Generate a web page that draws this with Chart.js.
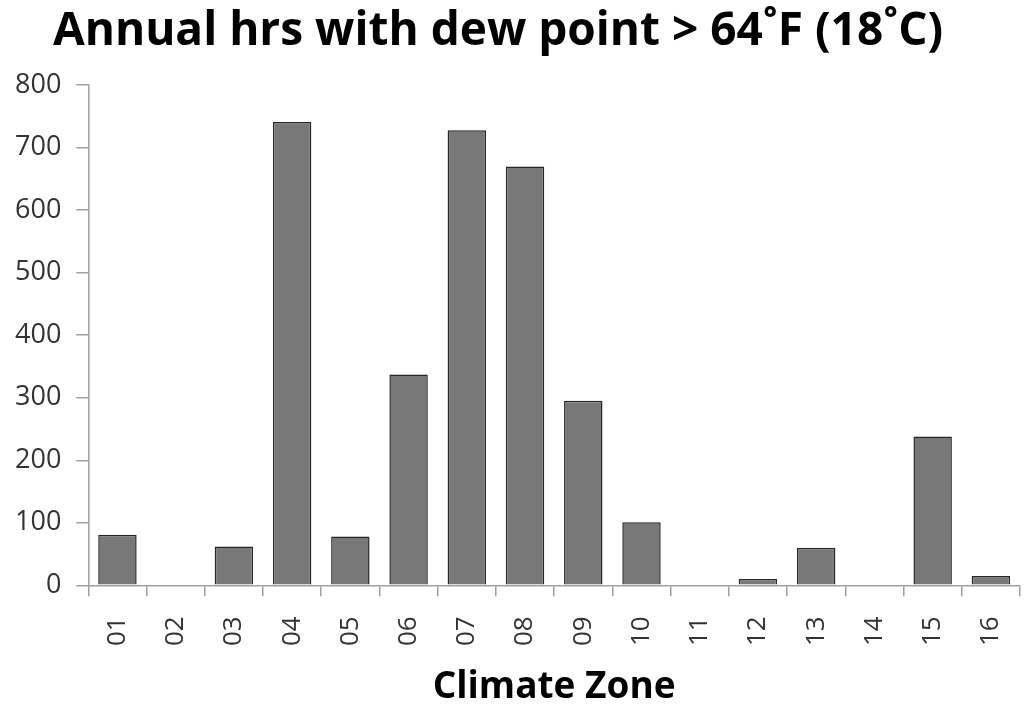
<!DOCTYPE html>
<html>
<head>
<meta charset="utf-8">
<script src="https://cdn.jsdelivr.net/npm/chart.js@4"></script>
<style>
  html, body { margin: 0; padding: 0; background: #fff; }
  #wrap { width: 1024px; height: 707px; position: relative; }
</style>
</head>
<body>
<div id="wrap"><canvas id="dewChart"></canvas></div>
<script>
// Climate zones and annual hours with dew point > 64F
const zones = ['01', '02', '03', '04', '05', '06', '07', '08', '09', '10', '11', '12', '13', '14', '15', '16'];
const hours = [81, 0, 62, 741, 78, 337, 728, 670, 295, 101, 0, 10, 60, 0, 238, 15];
const yTicks = [0, 100, 200, 300, 400, 500, 600, 700, 800];

const FONT = "'Open Sans', 'Noto Sans', sans-serif";

document.addEventListener('DOMContentLoaded', function() {
    initDewChart();
});

// Title in the original sits a little left of the page centre
const titleShift = {
    id: 'titleShift',
    afterLayout: function(chart) {
        const t = chart.titleBlock;
        if (t) {
            t.left -= 12;
            t.right -= 12;
        }
    }
};

function initDewChart() {
    const ctx = document.getElementById('dewChart');
    if (!ctx) return;

    new Chart(ctx, {
        type: 'bar',
        data: {
            labels: zones,
            datasets: [{
                data: hours,
                backgroundColor: '#787878',
                borderColor: '#262626',
                borderWidth: 1.5,
                barPercentage: 0.66,
                categoryPercentage: 1
            }]
        },
        plugins: [titleShift],
        options: {
            responsive: true,
            maintainAspectRatio: false,
            animation: false,
            layout: {
                padding: { left: 0, right: 4, top: 0, bottom: 1 }
            },
            plugins: {
                legend: { display: false },
                tooltip: { enabled: false },
                title: {
                    display: true,
                    text: 'Annual hrs with dew point > 64˚F (18˚C)',
                    color: '#000',
                    font: { family: FONT, size: 46, weight: 'bold', lineHeight: 1.2 },
                    padding: { top: 4, bottom: 26 }
                }
            },
            scales: {
                y: {
                    min: 0,
                    max: 800,
                    afterBuildTicks: function(axis) {
                        axis.ticks = yTicks.map(v => ({ value: v }));
                    },
                    border: { color: '#a0a0a0', width: 1.5 },
                    grid: {
                        drawOnChartArea: false,
                        drawTicks: true,
                        tickLength: 12,
                        color: '#a0a0a0',
                        lineWidth: 1.5
                    },
                    ticks: {
                        color: '#333',
                        padding: 15,
                        font: { family: FONT, size: 27 }
                    }
                },
                x: {
                    afterFit: function(scale) {
                        scale.paddingLeft = 0;
                        scale.paddingRight = 0;
                    },
                    border: { color: '#a0a0a0', width: 1.5 },
                    grid: {
                        offset: true,
                        drawOnChartArea: false,
                        drawTicks: true,
                        tickLength: 11,
                        color: '#a0a0a0',
                        lineWidth: 1.5
                    },
                    ticks: {
                        color: '#333',
                        minRotation: 90,
                        maxRotation: 90,
                        padding: 20,
                        font: { family: FONT, size: 26 }
                    },
                    title: {
                        display: true,
                        text: 'Climate Zone',
                        color: '#000',
                        font: { family: FONT, size: 37, weight: 'bold', lineHeight: 1 },
                        padding: { top: 3, bottom: 0 }
                    }
                }
            }
        }
    });
}
</script>
</body>
</html>
